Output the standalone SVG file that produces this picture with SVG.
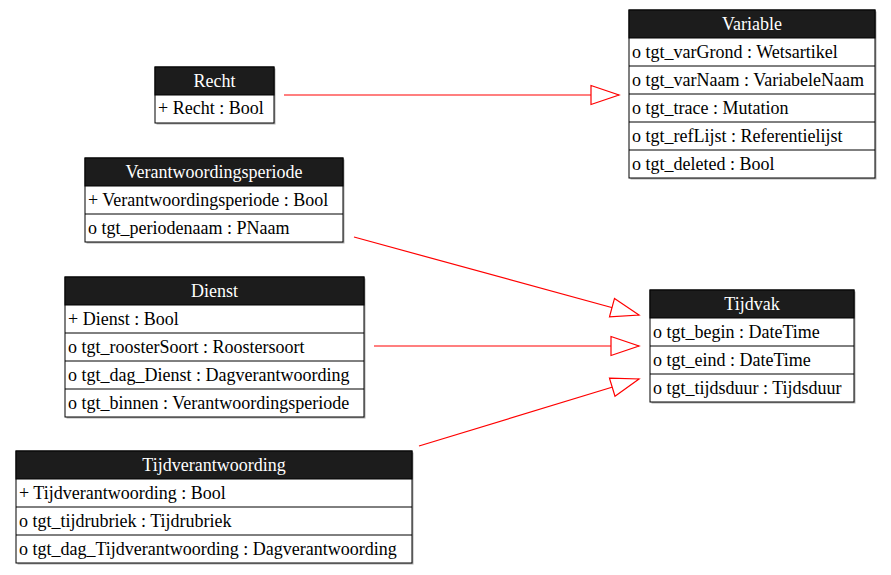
<svg xmlns="http://www.w3.org/2000/svg" width="891" height="575" viewBox="0 0 891 575">
<style>
text{font-family:'Liberation Serif','Times New Roman',serif;font-size:18px}
.box{fill:#fff;stroke:#000;stroke-width:1}
.shadow{fill:#b0b0b0}
.hdr{fill:#1c1c1c;stroke:#000;stroke-width:1}
.ht{fill:#fff;text-anchor:middle}
.rt{fill:#000}
.sep{stroke:#000;stroke-width:1}
.conn{stroke:#f00;stroke-width:1.2;fill:none}
</style>
<defs>
<marker id="tri" markerUnits="userSpaceOnUse" markerWidth="32" markerHeight="24" refX="29" refY="11" orient="auto" viewBox="0 0 32 24">
<path d="M1,1.5 L29,11 L1,20.5 Z" fill="#fff" stroke="#f00" stroke-width="1.2"/>
</marker>
</defs>
<rect width="891" height="575" fill="#fff"/>

<g id="connectors">
<line class="conn" x1="284" y1="95" x2="619" y2="95" marker-end="url(#tri)"/>
<line class="conn" x1="354" y1="237" x2="639" y2="315" marker-end="url(#tri)"/>
<line class="conn" x1="374" y1="346" x2="639" y2="346" marker-end="url(#tri)"/>
<line class="conn" x1="419" y1="446" x2="639" y2="379" marker-end="url(#tri)"/>
</g>

<g id="Recht">
<rect class="shadow" x="156.5" y="68.5" width="119" height="56"/>
<rect class="box" x="155" y="67" width="119" height="56"/>
<rect class="hdr" x="155" y="67" width="119" height="28"/>
<text class="ht" font-family="Liberation Serif" x="214.5" y="87">Recht</text>
<text class="rt" font-family="Liberation Serif" x="158" y="114">+ Recht : Bool</text>
</g>

<g id="Variable">
<rect class="shadow" x="630.5" y="11.5" width="246" height="168"/>
<rect class="box" x="629" y="10" width="246" height="168"/>
<rect class="hdr" x="629" y="10" width="246" height="28"/>
<text class="ht" font-family="Liberation Serif" x="752" y="30">Variable</text>
<line class="sep" x1="629" y1="66" x2="875" y2="66"/>
<line class="sep" x1="629" y1="94" x2="875" y2="94"/>
<line class="sep" x1="629" y1="122" x2="875" y2="122"/>
<line class="sep" x1="629" y1="150" x2="875" y2="150"/>
<text class="rt" font-family="Liberation Serif" x="632" y="58">o tgt_varGrond : Wetsartikel</text>
<text class="rt" font-family="Liberation Serif" x="632" y="86">o tgt_varNaam : VariabeleNaam</text>
<text class="rt" font-family="Liberation Serif" x="632" y="114">o tgt_trace : Mutation</text>
<text class="rt" font-family="Liberation Serif" x="632" y="142">o tgt_refLijst : Referentielijst</text>
<text class="rt" font-family="Liberation Serif" x="632" y="170">o tgt_deleted : Bool</text>
</g>

<g id="Verantwoordingsperiode">
<rect class="shadow" x="86.5" y="159.5" width="258" height="84"/>
<rect class="box" x="85" y="158" width="258" height="84"/>
<rect class="hdr" x="85" y="158" width="258" height="28"/>
<text class="ht" font-family="Liberation Serif" x="214" y="178">Verantwoordingsperiode</text>
<line class="sep" x1="85" y1="214" x2="343" y2="214"/>
<text class="rt" font-family="Liberation Serif" x="88" y="206">+ Verantwoordingsperiode : Bool</text>
<text class="rt" font-family="Liberation Serif" x="88" y="234">o tgt_periodenaam : PNaam</text>
</g>

<g id="Dienst">
<rect class="shadow" x="66.5" y="278.5" width="299" height="140"/>
<rect class="box" x="65" y="277" width="299" height="140"/>
<rect class="hdr" x="65" y="277" width="299" height="28"/>
<text class="ht" font-family="Liberation Serif" x="214.5" y="297">Dienst</text>
<line class="sep" x1="65" y1="333" x2="364" y2="333"/>
<line class="sep" x1="65" y1="361" x2="364" y2="361"/>
<line class="sep" x1="65" y1="389" x2="364" y2="389"/>
<text class="rt" font-family="Liberation Serif" x="68" y="325">+ Dienst : Bool</text>
<text class="rt" font-family="Liberation Serif" x="68" y="353">o tgt_roosterSoort : Roostersoort</text>
<text class="rt" font-family="Liberation Serif" x="68" y="381">o tgt_dag_Dienst : Dagverantwoording</text>
<text class="rt" font-family="Liberation Serif" x="68" y="409">o tgt_binnen : Verantwoordingsperiode</text>
</g>

<g id="Tijdverantwoording">
<rect class="shadow" x="17.5" y="452.5" width="396" height="112"/>
<rect class="box" x="16" y="451" width="396" height="112"/>
<rect class="hdr" x="16" y="451" width="396" height="28"/>
<text class="ht" font-family="Liberation Serif" x="214" y="471">Tijdverantwoording</text>
<line class="sep" x1="16" y1="507" x2="412" y2="507"/>
<line class="sep" x1="16" y1="535" x2="412" y2="535"/>
<text class="rt" font-family="Liberation Serif" x="19" y="499">+ Tijdverantwoording : Bool</text>
<text class="rt" font-family="Liberation Serif" x="19" y="527">o tgt_tijdrubriek : Tijdrubriek</text>
<text class="rt" font-family="Liberation Serif" x="19" y="555">o tgt_dag_Tijdverantwoording : Dagverantwoording</text>
</g>

<g id="Tijdvak">
<rect class="shadow" x="651.5" y="291.5" width="204" height="112"/>
<rect class="box" x="650" y="290" width="204" height="112"/>
<rect class="hdr" x="650" y="290" width="204" height="28"/>
<text class="ht" font-family="Liberation Serif" x="752" y="310">Tijdvak</text>
<line class="sep" x1="650" y1="346" x2="854" y2="346"/>
<line class="sep" x1="650" y1="374" x2="854" y2="374"/>
<text class="rt" font-family="Liberation Serif" x="653" y="338">o tgt_begin : DateTime</text>
<text class="rt" font-family="Liberation Serif" x="653" y="366">o tgt_eind : DateTime</text>
<text class="rt" font-family="Liberation Serif" x="653" y="394">o tgt_tijdsduur : Tijdsduur</text>
</g>
</svg>
